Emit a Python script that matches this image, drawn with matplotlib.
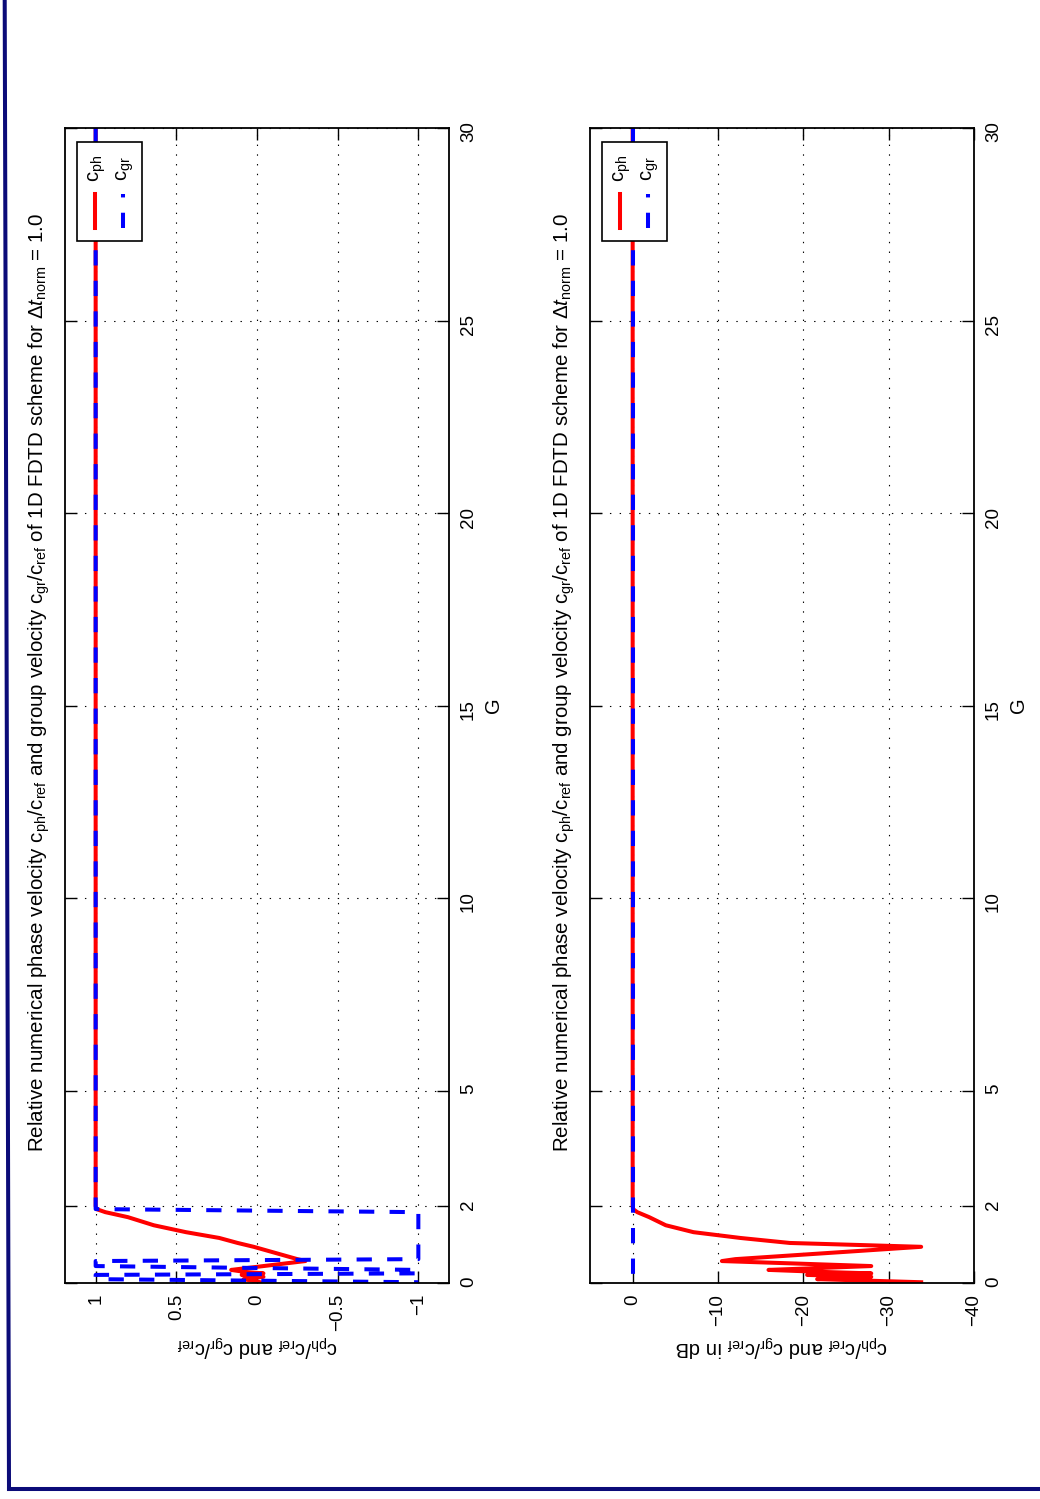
import matplotlib
matplotlib.use('Agg')
import numpy as np
import matplotlib.pyplot as plt
from matplotlib.lines import Line2D
from matplotlib.patches import Rectangle

plt.rcParams['font.family'] = ['Liberation Sans', 'DejaVu Sans']
plt.rcParams['mathtext.fontset'] = 'custom'
plt.rcParams['mathtext.rm'] = 'Liberation Sans'
plt.rcParams['mathtext.it'] = 'Liberation Sans:italic'
plt.rcParams['mathtext.bf'] = 'Liberation Sans:bold'
plt.rcParams['lines.scale_dashes'] = False

# data (G = points per wavelength)
G = [30, 2.0, 1.92, 1.84, 1.71, 1.5, 1.32, 1.17, 1.04, 0.94, 0.62, 0.57,
     0.44, 0.34, 0.29, 0.25, 0.21, 0.16, 0.10, 0.02]
c_ph = [1, 1, 0.995, 0.94, 0.80, 0.64, 0.44, 0.234, 0.12, 0.0204, -0.25, -0.30,
        -0.04, 0.16, 0.08, -0.04, 0.095, -0.04, 0.083, -0.0204]
c_gr = [1, 1, 1, -1, -1, -1, -1, -1, -1, -1, -1, 1,
        1, -1, -1, -1, 1, 1, 1, -1]

c_ph_db = 20 * np.log10(np.abs(c_ph))
c_gr_db = 20 * np.log10(np.abs(c_gr))

G_ticks = [0, 2, 5, 10, 15, 20, 25, 30]
lin_ticks = [1, 0.5, 0, -0.5, -1]
lin_labels = ['1', '0.5', '0', '\u22120.5', '\u22121']
db_ticks = [0, -10, -20, -30, -40]
db_labels = ['0', '\u221210', '\u221220', '\u221230', '\u221240']

title = (r'Relative numerical phase velocity $\mathrm{c}_{\mathrm{ph}}$/$\mathrm{c}_{\mathrm{ref}}$'
         r' and group velocity $\mathrm{c}_{\mathrm{gr}}$/$\mathrm{c}_{\mathrm{ref}}$'
         r' of 1D FDTD scheme for $\Delta\mathit{t}_{\mathrm{norm}}$ = 1.0')
lab_lin = (r'$\mathrm{c}_{\mathrm{ph}}$/$\mathrm{c}_{\mathrm{ref}}$ and '
           r'$\mathrm{c}_{\mathrm{gr}}$/$\mathrm{c}_{\mathrm{ref}}$')
lab_db = lab_lin + ' in dB'

fs = 14.5
fs_title = 14.8
fs_tick = 13.5
W, H = 1040, 1499
fig = plt.figure(figsize=(W / 100, H / 100), dpi=100)


def panel(left, yph, ygr, xlim, ticks, labels, xlab):
    ax = fig.add_axes([left / W, (H - 1283) / H, 384 / W, 1155 / H])
    ax.plot(yph, G, color='r', lw=2.9)
    ax.plot(ygr, G, color='b', lw=2.9, dashes=(11, 11))
    ax.set_xlim(xlim)
    ax.set_ylim(0, 30)
    ax.set_xticks(ticks)
    ax.set_xticklabels(labels, rotation=90, fontsize=fs_tick)
    ax.set_yticks(G_ticks)
    ax.set_yticklabels([str(t) for t in G_ticks], rotation=90, fontsize=fs_tick)
    for t in ax.get_yticklabels():
        t.set_va('center')
    ax.tick_params(direction='in', length=8.5, width=1, left=True, right=True,
                   top=True, bottom=True, labelleft=False, labelright=True, pad=8)
    ax.grid(True, color='k', lw=0.8, linestyle=(0, (1, 6)))
    for s in ax.spines.values():
        s.set_linewidth(1.3)
    ax.text(-0.066, 0.52, title, rotation=90, ha='center', va='center',
            transform=ax.transAxes, fontsize=fs_title)
    ax.text(1.115, 0.5, 'G', rotation=90, ha='center', va='center',
            transform=ax.transAxes, fontsize=fs)
    ax.text(0.5, -0.054, xlab, rotation=180, ha='center', va='center',
            transform=ax.transAxes, fontsize=fs)
    # legend box (rotated like the rest of the page)
    ax.add_patch(Rectangle((0.031, 0.902), 0.1695, 0.086, transform=ax.transAxes,
                           fc='white', ec='k', lw=1.2, zorder=5))
    ax.add_line(Line2D([0.078, 0.078], [0.913, 0.943], transform=ax.transAxes,
                       color='r', lw=2.9, zorder=6))
    ax.add_line(Line2D([0.151, 0.151], [0.913, 0.943], transform=ax.transAxes,
                       color='b', lw=2.9, dashes=(11, 11), zorder=6))
    ax.text(0.084, 0.965, r'$\mathrm{c}_{\mathrm{ph}}$', rotation=90, ha='center',
            va='center', transform=ax.transAxes, fontsize=fs, zorder=7)
    ax.text(0.156, 0.965, r'$\mathrm{c}_{\mathrm{gr}}$', rotation=90, ha='center',
            va='center', transform=ax.transAxes, fontsize=fs, zorder=7)
    return ax


panel(65, c_ph, c_gr, (1.19, -1.19), lin_ticks, lin_labels, lab_lin)
panel(590, c_ph_db, c_gr_db, (5, -40), db_ticks, db_labels, lab_db)

# page frame
navy = '#0b0b78'
fig.add_artist(Line2D([4.7 / W, 9 / W], [1.0, 1 - 1489 / H], color=navy, lw=2.9))
fig.add_artist(Line2D([9 / W, 1.0], [1 - 1489 / H, 1 - 1489 / H], color=navy, lw=2.9))

fig.savefig('out.png', dpi=100)
